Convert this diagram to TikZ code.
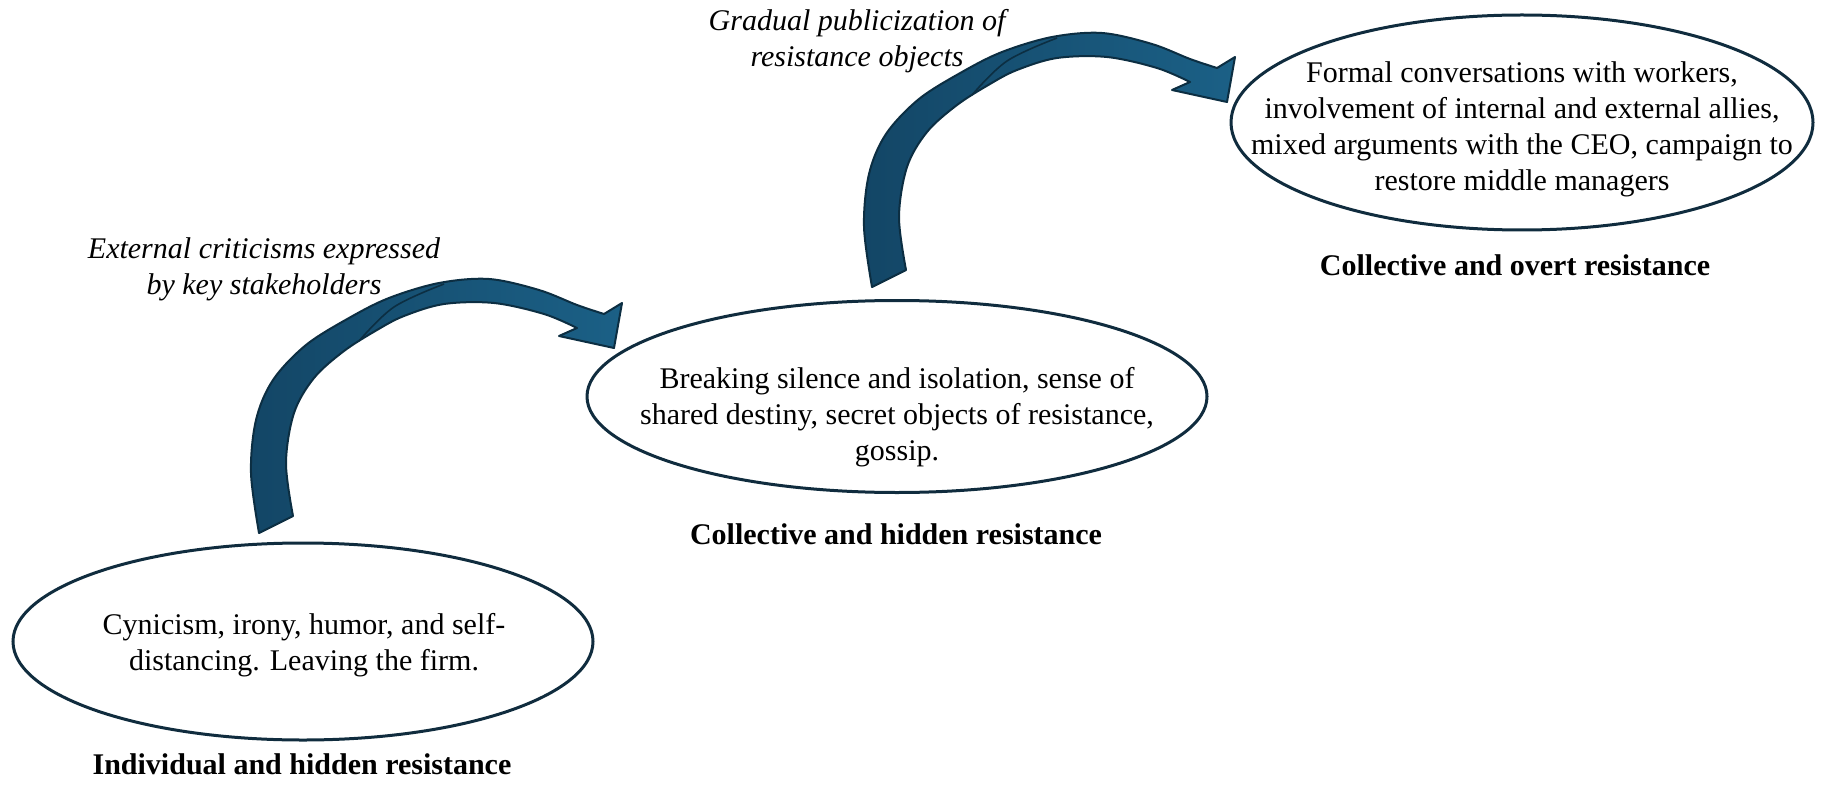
\documentclass[tikz,border=0pt]{standalone}
\usepackage{fontspec}
\setmainfont{Liberation Serif}
\usetikzlibrary{shapes.geometric}
\definecolor{ellline}{RGB}{16,44,62}
\definecolor{arrdark}{RGB}{19,70,102}
\definecolor{arrlight}{RGB}{27,96,134}
\definecolor{arrline}{RGB}{12,46,66}
\tikzset{
  bigarrow/.pic={
    \path[draw=arrline, left color=arrdark, right color=arrlight, line width=1pt, line join=round]
      plot[smooth, tension=0.55] coordinates {(0,0) (-8,-60) (-3,-113) (14,-153) (47,-188) (90,-215) (130,-235) (180,-250) (230,-254) (280,-243) (318,-228) (345,-219)}
      -- (363,-230) -- (355,-185) -- (300,-197)
      -- plot[smooth, tension=0.55] coordinates {(318,-205) (285,-219) (235,-230) (185,-229) (145,-217) (118,-203) (85,-182) (55,-155) (35,-120) (27,-70) (34,-17)}
      -- cycle;
    \draw[arrline, line width=0.8pt] plot[smooth, tension=0.6] coordinates {(100,-192) (135,-226) (185,-249)};
  }
}
\begin{document}
\begin{tikzpicture}[x=0.5pt,y=-0.5pt,
  stage/.style={draw=ellline, line width=1.5pt, ellipse, inner sep=0pt},
  body/.style={font=\fontsize{15pt}{18pt}\selectfont, align=center, inner sep=0pt},
  title/.style={font=\fontsize{15pt}{18pt}\selectfont\bfseries, inner sep=0pt, text height=10.5pt, text depth=3pt},
  cause/.style={font=\fontsize{15pt}{18pt}\selectfont\itshape, align=center, inner sep=0pt}]
\useasboundingbox (0,0) rectangle (1829,786);

% stages
\node[stage, minimum width=290pt, minimum height=98.5pt] (e1) at (303,641.5) {};
\node[stage, minimum width=310pt, minimum height=96pt] (e2) at (897,396.5) {};
\node[stage, minimum width=291pt, minimum height=107.5pt] (e3) at (1522,122.5) {};

\node[body] (t1) at (304,645) {Cynicism, irony, humor, and self-\\distancing. Leaving the firm.};
\node[body] (t2) at (897,417.5) {Breaking silence and isolation, sense of\\shared destiny, secret objects of resistance,\\gossip.};
\node[body] (t3) at (1522,129) {Formal conversations with workers,\\involvement of internal and external allies,\\mixed arguments with the CEO, campaign to\\restore middle managers};

\node[title] (l1) at (302,767) {Individual and hidden resistance};
\node[title] (l2) at (896,537) {Collective and hidden resistance};
\node[title] (l3) at (1515,268) {Collective and overt resistance};

% triggers
\node[cause] (c1) at (264,269) {External criticisms expressed\\by key stakeholders};
\node[cause] (c2) at (857,41) {Gradual publicization of\\resistance objects};

% curved block arrows
\pic (a1) at (259,533) {bigarrow};
\pic (a2) at (872,287) {bigarrow};
\end{tikzpicture}
\end{document}
